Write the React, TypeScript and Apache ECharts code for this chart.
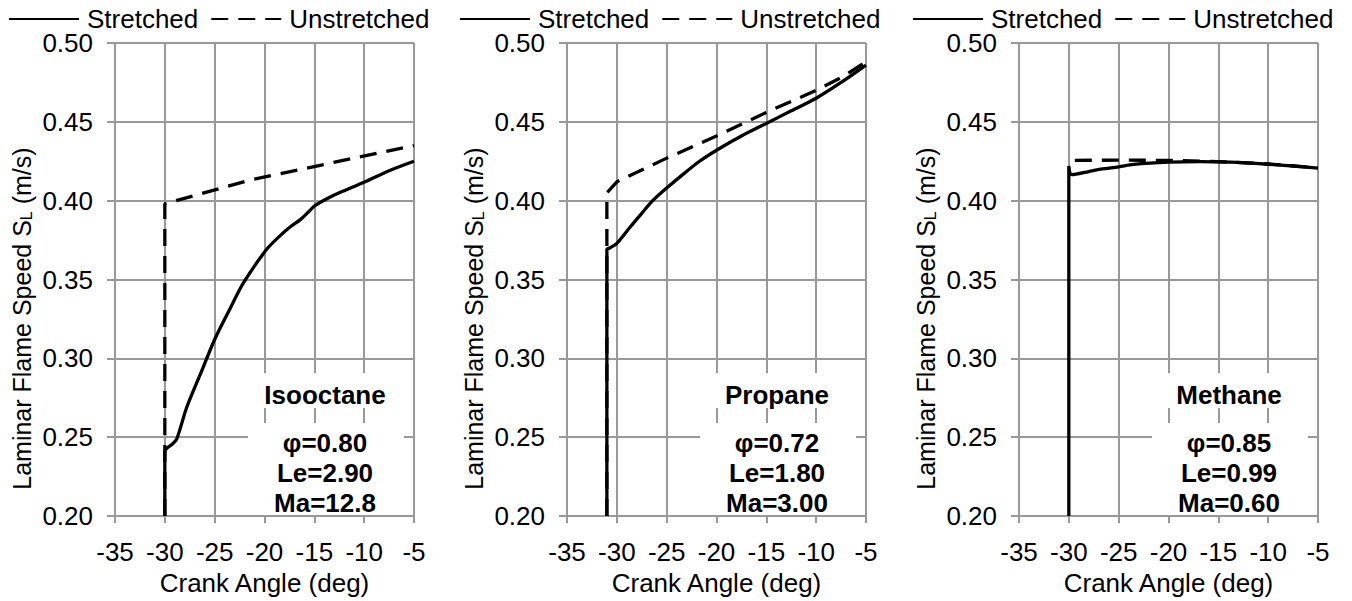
import React, { useEffect, useRef } from "react";
import * as echarts from "echarts";

const FONT = '"Liberation Sans", Arial, Helvetica, sans-serif';

// Isooctane
const isoStretchedX = [-30, -30, -29.2, -28.8, -27.8, -26.5, -25, -23.5, -22.1, -19.8, -18.4, -17.4, -16.4, -15.5, -14.9, -13.5, -12.5, -9.9, -7.5, -5];
const isoStretchedY = [0.2, 0.241, 0.246, 0.249, 0.269, 0.289, 0.312, 0.331, 0.348, 0.369, 0.378, 0.3835, 0.388, 0.3935, 0.397, 0.402, 0.405, 0.412, 0.419, 0.425];
const isoUnstretchedX = [-30, -30, -21.5, -5];
const isoUnstretchedY = [0.2, 0.398, 0.413, 0.435];

// Propane
const proStretchedX = [-31, -31, -30.7, -30, -28.7, -27.5, -26.4, -25, -23.3, -21.7, -20, -17.5, -15, -12.5, -10, -7.5, -5];
const proStretchedY = [0.2, 0.369, 0.37, 0.373, 0.383, 0.392, 0.4, 0.408, 0.417, 0.425, 0.432, 0.441, 0.449, 0.457, 0.465, 0.475, 0.486];
const proUnstretchedX = [-31, -31, -30, -25, -20, -15, -10, -7.5, -5];
const proUnstretchedY = [0.2, 0.405, 0.412, 0.427, 0.441, 0.456, 0.47, 0.478, 0.488];

// Methane
const metStretchedX = [-30, -30, -29.7, -28, -26.8, -25, -23.5, -20, -16.8, -13.8, -10, -7.5, -5];
const metStretchedY = [0.2, 0.422, 0.4165, 0.4185, 0.42, 0.4215, 0.423, 0.4244, 0.4248, 0.4244, 0.4231, 0.422, 0.4206];
const metUnstretchedX = [-29.4, -25, -20, -15, -10, -5];
const metUnstretchedY = [0.4256, 0.4257, 0.4256, 0.4248, 0.4233, 0.4208];

const fuelNames = ["Isooctane", "Propane", "Methane"];
const phiLabels = ["φ=0.80", "φ=0.72", "φ=0.85"];
const leLabels = ["Le=2.90", "Le=1.80", "Le=0.99"];
const maLabels = ["Ma=12.8", "Ma=3.00", "Ma=0.60"];

const seriesNames = ["Stretched", "Unstretched"];
const xTitle = "Crank Angle (deg)";

const stretchedX = [isoStretchedX, proStretchedX, metStretchedX];
const stretchedY = [isoStretchedY, proStretchedY, metStretchedY];
const unstretchedX = [isoUnstretchedX, proUnstretchedX, metUnstretchedX];
const unstretchedY = [isoUnstretchedY, proUnstretchedY, metUnstretchedY];

const panelLefts = [115, 567, 1019];
const legendLefts = [8, 459, 912];
const PLOT_TOP = 43;
const PLOT_W = 299;
const PLOT_H = 480;
const GRID_COLOR = "#999999";

const zip = (xs: number[], ys: number[]) => xs.map((x, i) => [x, ys[i]]);

export default function App() {
  const ref = useRef<HTMLDivElement>(null);
  useEffect(() => {
    if (!ref.current) return;
    const chart = echarts.init(ref.current, undefined, { renderer: "svg" });

    const grid: any[] = [];
    const xAxis: any[] = [];
    const yAxis: any[] = [];
    const series: any[] = [];
    const legend: any[] = [];
    const graphic: any[] = [];

    panelLefts.forEach((L, i) => {
      grid.push({ left: L, top: PLOT_TOP, width: PLOT_W, height: PLOT_H, containLabel: false });
      xAxis.push({
        type: "value",
        gridIndex: i,
        min: -35,
        max: -5,
        interval: 5,
        axisLine: { show: true, onZero: false, lineStyle: { color: GRID_COLOR, width: 2 } },
        axisTick: { show: true, length: 7, lineStyle: { color: GRID_COLOR, width: 2 } },
        splitLine: { show: true, lineStyle: { color: GRID_COLOR, width: 2 } },
        axisLabel: { fontSize: 26, color: "#000", fontFamily: FONT, margin: 23 },
        name: xTitle,
        nameLocation: "middle",
        nameGap: 46,
        nameTextStyle: { fontSize: 26, color: "#000", fontFamily: FONT },
      });
      yAxis.push({
        type: "value",
        gridIndex: i,
        min: 0.2,
        max: 0.5,
        interval: 0.05,
        axisLine: { show: true, onZero: false, lineStyle: { color: GRID_COLOR, width: 2 } },
        axisTick: { show: true, length: 8, lineStyle: { color: GRID_COLOR, width: 2 } },
        splitLine: { show: true, lineStyle: { color: GRID_COLOR, width: 2 } },
        axisLabel: {
          fontSize: 26,
          color: "#000",
          fontFamily: FONT,
          margin: 22,
          formatter: (v: number) => v.toFixed(2),
        },
        name: "{a|Laminar Flame Speed S}{b|L}{a| (m/s)}",
        nameLocation: "middle",
        nameRotate: 90,
        nameGap: 81,
        nameTextStyle: {
          fontSize: 25,
          color: "#000",
          fontFamily: FONT,
          padding: [0, 78, 0, 0],
          rich: {
            a: { fontSize: 25, fontFamily: FONT, color: "#000", lineHeight: 28, verticalAlign: "bottom" },
            b: { fontSize: 16, fontFamily: FONT, color: "#000", lineHeight: 16, verticalAlign: "bottom" },
          },
        },
      });
      series.push({
        name: seriesNames[1],
        type: "line",
        xAxisIndex: i,
        yAxisIndex: i,
        symbol: "none",
        showSymbol: false,
        lineStyle: { color: "#000", width: 3.3, type: [17, 10] },
        itemStyle: { color: "#000" },
        data: zip(unstretchedX[i], unstretchedY[i]),
        z: 3,
      });
      series.push({
        name: seriesNames[0],
        type: "line",
        xAxisIndex: i,
        yAxisIndex: i,
        symbol: "none",
        showSymbol: false,
        smooth: 0.3,
        lineStyle: { color: "#000", width: 3.3, type: "solid" },
        itemStyle: { color: "#000" },
        data: zip(stretchedX[i], stretchedY[i]),
        z: 4,
      });
      legend.push({
        left: legendLefts[i],
        top: 6,
        padding: 0,
        itemWidth: 70,
        itemHeight: 14,
        itemGap: 12,
        selectedMode: false,
        data: seriesNames,
        itemStyle: { opacity: 0 },
        textStyle: { fontSize: 26, color: "#000", fontFamily: FONT, padding: [0, 0, 0, 3] },
      });

      // annotation boxes
      graphic.push({
        type: "rect",
        z: 100,
        shape: { x: L + 133, y: 373, width: 156, height: 35 },
        style: { fill: "#fff" },
      });
      graphic.push({
        type: "rect",
        z: 100,
        shape: { x: L + 133, y: 423, width: 156, height: 92 },
        style: { fill: "#fff" },
      });
      const cx = L + 210;
      const lines = [fuelNames[i], phiLabels[i], leLabels[i], maLabels[i]];
      const ys = [395, 443, 473, 503];
      lines.forEach((t, k) => {
        graphic.push({
          type: "text",
          z: 101,
          x: cx,
          y: ys[k],
          style: {
            text: t,
            fill: "#000",
            font: `bold 26px ${FONT}`,
            align: "center",
            verticalAlign: "middle",
          },
        });
      });
    });

    chart.setOption({
      animation: false,
      backgroundColor: "#fff",
      grid,
      xAxis,
      yAxis,
      series,
      legend,
      graphic,
    });
    return () => chart.dispose();
  }, []);

  return (
    <div
      ref={ref}
      style={{ position: "fixed", left: 0, top: 0, width: 1352, height: 601, background: "#fff" }}
    />
  );
}
